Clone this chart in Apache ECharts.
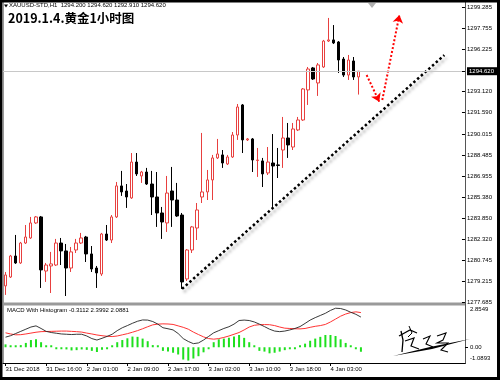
<!DOCTYPE html>
<html><head><meta charset="utf-8">
<script src="https://cdn.jsdelivr.net/npm/echarts@6/dist/echarts.min.js"></script>
<style>html,body{margin:0;padding:0;background:#fff}#c{width:500px;height:380px}</style>
</head><body><div id="c"></div>
<script>
const chartTitle = '2019.1.4.黄金1小时图';
const symbolInfo = 'XAUUSD-STD,H1';
const lastBarOHLC = ['1294.200', '1294.620', '1292.910', '1294.620'];
const xLabels = ['31 Dec 2018', '31 Dec 16:00', '2 Jan 01:00', '2 Jan 09:00', '2 Jan 17:00', '3 Jan 02:00', '3 Jan 10:00', '3 Jan 18:00', '4 Jan 03:00'];
const barsPerLabel = 8;
const slotCount = 91;
const priceTicks = [1299.285, 1297.755, 1296.225, 1294.620, 1293.120, 1291.590, 1290.015, 1288.485, 1286.955, 1285.380, 1283.850, 1282.320, 1280.745, 1279.215, 1277.685];
const bidPrice = 1294.620;
// [open, close, low, high]
const candles = [
 [1278.90,1279.70,1278.24,1279.92],[1279.55,1281.09,1279.48,1281.17],[1281.09,1280.58,1280.51,1282.63],[1280.58,1282.04,1280.51,1282.12],
 [1282.04,1282.48,1281.97,1283.36],[1282.41,1283.51,1282.34,1283.95],[1283.51,1283.95,1283.44,1284.02],[1283.95,1280.07,1278.75,1284.02],
 [1279.99,1280.43,1279.19,1280.58],[1280.36,1280.51,1278.38,1281.39],[1280.43,1282.04,1280.36,1282.34],[1282.04,1281.46,1280.43,1282.41],
 [1281.46,1280.21,1278.16,1281.97],[1280.21,1281.39,1279.92,1281.75],[1281.53,1282.04,1281.31,1282.34],[1282.04,1282.41,1281.97,1282.78],
 [1282.48,1281.24,1280.65,1282.56],[1281.24,1280.14,1279.92,1281.82],[1280.21,1279.85,1278.75,1280.36],[1279.77,1282.70,1279.63,1282.78],
 [1282.70,1282.26,1282.19,1283.36],[1282.26,1283.95,1282.04,1284.09],[1283.95,1286.22,1283.87,1286.51],[1286.22,1285.78,1285.49,1287.32],
 [1285.85,1285.41,1284.61,1286.36],[1285.34,1287.97,1285.27,1288.63],[1287.97,1287.10,1286.95,1288.63],[1286.95,1287.24,1286.44,1287.32],
 [1287.24,1286.36,1286.29,1287.54],[1286.36,1285.41,1284.09,1287.32],[1285.41,1284.24,1283.22,1287.24],[1284.24,1283.58,1282.34,1284.68],
 [1283.51,1285.70,1282.85,1286.95],[1285.85,1285.19,1283.22,1287.61],[1285.19,1284.02,1283.95,1286.44],[1284.09,1279.19,1278.68,1284.24],
 [1279.41,1281.53,1279.26,1281.60],[1281.53,1283.22,1281.31,1283.29],[1283.14,1284.46,1282.26,1284.97],[1285.41,1285.78,1284.97,1290.10],
 [1285.78,1286.66,1285.19,1287.39],[1286.66,1288.27,1285.19,1288.49],[1288.27,1288.56,1288.19,1289.66],[1288.49,1287.90,1287.54,1288.85],
 [1287.83,1288.34,1287.75,1288.49],[1288.34,1289.95,1288.27,1290.17],[1289.95,1292.00,1289.59,1292.22],[1292.15,1289.59,1288.63,1292.22],
 [1289.59,1289.66,1289.51,1289.73],[1289.66,1288.12,1287.24,1289.73],[1288.08,1288.12,1286.88,1289.00],[1288.05,1287.10,1286.14,1288.27],
 [1287.17,1287.97,1287.02,1289.07],[1287.90,1287.68,1284.68,1290.02],[1287.76,1287.72,1286.80,1289.00],[1288.85,1289.73,1287.54,1291.27],
 [1289.73,1289.22,1288.27,1290.83],[1289.07,1290.39,1288.85,1290.83],[1290.32,1291.05,1290.24,1291.27],[1291.05,1293.32,1290.98,1293.39],
 [1293.25,1294.78,1292.15,1294.93],[1294.86,1294.05,1293.98,1294.93],[1293.76,1295.08,1292.81,1295.22],[1294.93,1296.83,1294.86,1296.91],
 [1296.83,1296.91,1296.76,1298.52],[1296.91,1296.69,1296.61,1298.00],[1296.76,1295.44,1294.49,1296.83],[1295.51,1294.34,1294.20,1295.66],
 [1294.34,1295.44,1293.98,1295.81],[1295.37,1294.20,1293.98,1295.66],[1294.20,1294.62,1292.91,1294.62]
];
const macdLine = [0.7,0.8,0.95,1.1,1.25,1.4,1.48,1.3,1.1,1.02,0.97,0.92,0.9,0.88,0.9,0.9,0.78,0.6,0.5,0.62,0.75,0.9,1.15,1.35,1.5,1.66,1.8,1.89,1.88,1.78,1.6,1.35,1.28,1.2,0.95,0.6,0.4,0.25,0.3,0.5,0.75,1.0,1.15,1.3,1.42,1.6,1.85,1.88,1.85,1.75,1.6,1.43,1.25,1.12,1.08,1.12,1.2,1.3,1.43,1.65,1.88,2.05,2.2,2.35,2.55,2.7,2.68,2.58,2.42,2.28,2.0881];
const signalLine = [1.0,0.92,0.86,0.87,0.92,0.98,1.04,1.08,1.09,1.1,1.11,1.12,1.12,1.1,1.08,1.05,0.98,0.92,0.85,0.8,0.76,0.74,0.78,0.86,0.94,1.04,1.15,1.28,1.42,1.55,1.6,1.62,1.61,1.58,1.48,1.38,1.25,1.05,0.88,0.72,0.6,0.56,0.6,0.68,0.78,0.9,1.02,1.2,1.4,1.52,1.56,1.57,1.56,1.5,1.4,1.32,1.3,1.28,1.27,1.3,1.38,1.45,1.5,1.58,1.75,1.95,2.15,2.3,2.4,2.45,2.3992];
const histogram = [0.2,0.02,0.03,0.15,0.3,0.5,0.55,0.35,0.05,0.02,-0.08,-0.1,-0.15,-0.22,-0.2,-0.15,-0.18,-0.25,-0.33,-0.18,-0.08,0.03,0.35,0.5,0.62,0.74,0.72,0.6,0.42,0.15,0.02,-0.25,-0.3,-0.38,-0.5,-0.85,-0.92,-0.78,-0.62,-0.35,-0.08,0.35,0.55,0.6,0.66,0.74,0.85,0.65,0.35,0.05,-0.25,-0.3,-0.42,-0.38,-0.3,-0.2,-0.12,-0.05,0.02,0.25,0.45,0.6,0.72,0.85,0.85,0.78,0.55,0.3,0.05,-0.05,-0.3112];
const macdTicks = [2.8549, 0, -1.0893];
const trendLine = [[35, 1278.68], [87, 1295.80]];
const arrowDown = [[71.6, 1294.34], [74.1, 1292.39]];
const arrowUp = [[74.7, 1292.51], [78.1, 1298.74]];

const categories = Array.from({length: slotCount}, (_, i) => String(i));
const isLabelSlot = (i) => i % barsPerLabel === 0 && i / barsPerLabel < xLabels.length;
const F = 'Liberation Sans, Arial, sans-serif';
const pMin = Math.min(...priceTicks), pMax = Math.max(...priceTicks);
const mMin = Math.min(...macdTicks), mMax = Math.max(...macdTicks);
const macdTitle = 'MACD With Histogram ' + histogram[histogram.length-1].toFixed(4) + ' ' + signalLine[signalLine.length-1].toFixed(4) + ' ' + macdLine[macdLine.length-1].toFixed(4);

const chart = echarts.init(document.getElementById('c'), null, {renderer: 'canvas'});
chart.setOption({
  animation: false,
  backgroundColor: '#fff',
  textStyle: {fontFamily: F},
  grid: [
    {left: 3, right: 35, top: 7.5, height: 295, show: false},
    {left: 3, right: 35, top: 306, height: 57, show: false}
  ],
  xAxis: [
    {type: 'category', gridIndex: 0, data: categories, boundaryGap: true, show: false},
    {type: 'category', gridIndex: 1, data: categories, boundaryGap: true,
      axisLine: {show: true, onZero: false, lineStyle: {color: '#000', width: 1}},
      axisTick: {show: true, alignWithLabel: true, interval: (i) => isLabelSlot(i), length: 3, lineStyle: {color: '#000'}},
      axisLabel: {interval: (i) => isLabelSlot(i), formatter: (v, i) => xLabels[i / barsPerLabel], align: 'left', margin: 3,
        fontSize: 6, color: '#000', fontFamily: F, hideOverlap: false},
      splitLine: {show: false}},
    {type: 'value', gridIndex: 0, min: -0.5, max: slotCount - 0.5, show: false}
  ],
  yAxis: [
    {type: 'value', gridIndex: 0, position: 'right', min: pMin, max: pMax, scale: true,
      axisLine: {show: false, onZero: false},
      axisTick: {show: true, length: 3, customValues: priceTicks, lineStyle: {color: '#000'}},
      axisLabel: {customValues: priceTicks, margin: 5, fontSize: 6, color: '#000', fontFamily: F,
        formatter: (v) => v === bidPrice ? '{bid|' + v.toFixed(3) + '}' : v.toFixed(3),
        rich: {bid: {backgroundColor: '#000', color: '#fff', fontSize: 6, fontFamily: F, padding: [1, 3, 1, 2]}}},
      splitLine: {show: false}},
    {type: 'value', gridIndex: 1, position: 'right', min: mMin, max: mMax,
      axisLine: {show: false, onZero: false},
      axisTick: {show: true, length: 3, customValues: [0], lineStyle: {color: '#000'}},
      axisLabel: {customValues: macdTicks, margin: 5, fontSize: 6, color: '#000', fontFamily: F,
        formatter: (v) => v === mMax ? '{t|' + v.toFixed(4) + '}' : (v === mMin ? '{b|' + v.toFixed(4) + '}' : v.toFixed(2)),
        rich: {t: {fontSize: 6, fontFamily: F, padding: [7, 0, 0, 0]}, b: {fontSize: 6, fontFamily: F, padding: [0, 0, 10, 0]}}},
      splitLine: {show: false}}
  ],
  series: [
    {type: 'candlestick', xAxisIndex: 0, yAxisIndex: 0, data: candles, barWidth: 3,
      itemStyle: {color: '#ffffff', color0: '#000000', borderColor: '#e8403f', borderColor0: '#000000', borderWidth: 1},
      markLine: {silent: true, symbol: ['none', 'none'], label: {show: false},
        lineStyle: {color: '#c8c8c8', width: 1, type: 'solid'}, data: [{yAxis: bidPrice}]}},
    {type: 'line', xAxisIndex: 2, yAxisIndex: 0, data: trendLine, showSymbol: false, symbol: 'none',
      lineStyle: {color: '#000', width: 2.5, type: [2.5, 2.5], cap: 'butt',
        shadowColor: 'rgba(0,0,0,0.35)', shadowBlur: 3, shadowOffsetX: 2, shadowOffsetY: 3}},
    {type: 'lines', coordinateSystem: 'cartesian2d', xAxisIndex: 2, yAxisIndex: 0,
      symbol: ['none', 'arrow'], symbolSize: [0, 8],
      lineStyle: {color: '#ff0000', width: 2, type: [2, 2], opacity: 1, curveness: 0},
      data: [{coords: arrowDown}, {coords: arrowUp}]},
    {type: 'bar', xAxisIndex: 1, yAxisIndex: 1, data: histogram, barWidth: 2, barMinHeight: 2,
      itemStyle: {color: '#1ee01e'}},
    {type: 'line', xAxisIndex: 1, yAxisIndex: 1, data: signalLine, showSymbol: false, symbol: 'none',
      lineStyle: {color: '#ff3333', width: 1}},
    {type: 'line', xAxisIndex: 1, yAxisIndex: 1, data: macdLine, showSymbol: false, symbol: 'none',
      lineStyle: {color: '#222', width: 0.9}}
  ],
  graphic: [
    {type: 'rect', shape: {x: 3, y: 302.5, width: 463, height: 3}, style: {fill: '#9a9a9a'}, silent: true},
    {type: 'line', shape: {x1: 465.5, y1: 2, x2: 465.5, y2: 364}, style: {stroke: '#555', lineWidth: 1}, silent: true},
    {type: 'line', shape: {x1: 3.5, y1: 2, x2: 3.5, y2: 364}, style: {stroke: '#999', lineWidth: 1}, silent: true},
    {type: 'rect', shape: {x: 1, y: 1, width: 497.5, height: 377.5}, style: {fill: 'none', stroke: '#000', lineWidth: 3}, silent: true},
    {type: 'polygon', shape: {points: [[368, 3], [376, 3], [372, 8]]}, style: {fill: '#b0b0b0'}, silent: true},
    {type: 'polygon', shape: {points: [[4, 4.5], [8, 4.5], [6, 7.5]]}, style: {fill: '#000'}, silent: true},
    {type: 'text', x: 9, y: 2.5, style: {text: symbolInfo + '  ' + lastBarOHLC.join(' '), font: '6px ' + F, fill: '#000', textVerticalAlign: 'top'}, silent: true},
    {type: 'text', x: 8, y: 11.5, style: {text: chartTitle, font: 'bold 12.5px "Noto Sans CJK SC"', fill: '#000', textVerticalAlign: 'top'}, silent: true},
    {type: 'text', x: 7, y: 307, style: {text: macdTitle, font: '6px ' + F, fill: '#000', textVerticalAlign: 'top'}, silent: true},
    {type: 'group', silent: true, children: [
      {type: 'polygon', shape: {points: [[393, 356], [430, 347], [470, 339], [432, 349]]}, style: {fill: '#000'}},
      {type: 'polyline', shape: {points: [[401, 331], [403, 340], [402, 352]]}, style: {stroke: '#000', lineWidth: 1.3}},
      {type: 'polyline', shape: {points: [[399, 336], [410, 330], [417, 333]]}, style: {stroke: '#000', lineWidth: 1.2}},
      {type: 'polyline', shape: {points: [[405, 341], [414, 338], [411, 346], [419, 349]]}, style: {stroke: '#000', lineWidth: 1.2}},
      {type: 'polyline', shape: {points: [[409, 326], [412, 333], [408, 337]]}, style: {stroke: '#000', lineWidth: 1}},
      {type: 'polyline', shape: {points: [[423, 339], [430, 336], [426, 344], [433, 347]]}, style: {stroke: '#000', lineWidth: 1.1}},
      {type: 'polyline', shape: {points: [[437, 336], [446, 333], [443, 340], [437, 343], [448, 343], [441, 350], [448, 352]]}, style: {stroke: '#000', lineWidth: 1.1}}
    ]}
  ]
});
</script></body></html>
